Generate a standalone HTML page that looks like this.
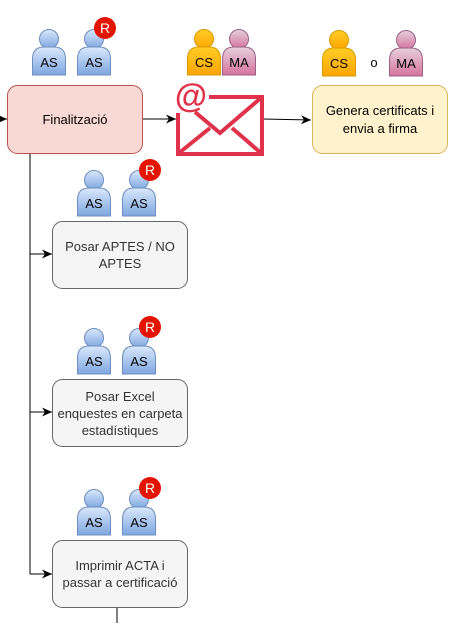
<!DOCTYPE html>
<html><head><meta charset="utf-8"><style>
body{margin:0;background:#fff}
svg text{font-family:"Liberation Sans",sans-serif}
</style></head><body>
<svg width="460" height="623" viewBox="0 0 460 623" xmlns="http://www.w3.org/2000/svg">
<defs>
<linearGradient id="gb" x1="0" y1="0" x2="0" y2="1"><stop offset="0" stop-color="#dae8fc"/><stop offset="1" stop-color="#7ea6e0"/></linearGradient>
<linearGradient id="gy" x1="0" y1="0" x2="0" y2="1"><stop offset="0" stop-color="#ffcd28"/><stop offset="1" stop-color="#ffa500"/></linearGradient>
<linearGradient id="gm" x1="0" y1="0" x2="0" y2="1"><stop offset="0" stop-color="#e6d0de"/><stop offset="1" stop-color="#d5739d"/></linearGradient>
<marker id="ar" markerWidth="12" markerHeight="12" refX="10" refY="6" orient="auto" markerUnits="userSpaceOnUse"><path d="M0,1.5 L10,6 L0,10.5 L3,6 Z" fill="#000"/></marker>
<g id="pb"><circle cx="17" cy="10" r="9.5" fill="url(#gb)" stroke="#6c8ebf"/><path d="M0.5,46 L0.5,30 Q0.5,18 12,18 L22,18 Q33.5,18 33.5,30 L33.5,46 Z" fill="url(#gb)" stroke="#6c8ebf"/><text x="17" y="38" font-size="13" text-anchor="middle" fill="#000">AS</text></g>
<g id="py"><circle cx="17" cy="10" r="9.5" fill="url(#gy)" stroke="#d79b00"/><path d="M0.5,46 L0.5,30 Q0.5,18 12,18 L22,18 Q33.5,18 33.5,30 L33.5,46 Z" fill="url(#gy)" stroke="#d79b00"/><text x="17" y="38" font-size="13" text-anchor="middle" fill="#000">CS</text></g>
<g id="pm"><circle cx="17" cy="10" r="9.5" fill="url(#gm)" stroke="#996185"/><path d="M0.5,46 L0.5,30 Q0.5,18 12,18 L22,18 Q33.5,18 33.5,30 L33.5,46 Z" fill="url(#gm)" stroke="#996185"/><text x="17" y="38" font-size="13" text-anchor="middle" fill="#000">MA</text></g>
<g id="rb"><circle cx="0" cy="0" r="11" fill="#e51400"/><text x="0" y="5" font-size="14" text-anchor="middle" fill="#fff">R</text></g>
</defs>

<line x1="0" y1="119" x2="7" y2="119" stroke="#000" marker-end="url(#ar)"/>
<line x1="142" y1="119" x2="176" y2="119" stroke="#000" marker-end="url(#ar)"/>
<line x1="263" y1="119" x2="311" y2="120" stroke="#000" marker-end="url(#ar)"/>
<path d="M30,153 L30,574" stroke="#000" fill="none"/>
<line x1="30" y1="254" x2="52" y2="254" stroke="#000" marker-end="url(#ar)"/>
<line x1="30" y1="412" x2="52" y2="412" stroke="#000" marker-end="url(#ar)"/>
<line x1="30" y1="574" x2="52" y2="574" stroke="#000" marker-end="url(#ar)"/>
<line x1="117" y1="608" x2="117" y2="623" stroke="#000"/>

<use href="#pb" x="32" y="29"/>
<use href="#pb" x="77" y="29"/>
<use href="#rb" x="105" y="28"/>
<use href="#py" x="187" y="29"/>
<use href="#pm" x="222" y="29"/>
<use href="#py" x="322" y="30"/>
<text x="374" y="67" font-size="13" text-anchor="middle">o</text>
<use href="#pm" x="389" y="30"/>

<rect x="7.5" y="85.5" width="135" height="68" rx="10" fill="#fad9d5" stroke="#b85450"/>
<text x="75" y="124" font-size="13" text-anchor="middle">Finalització</text>

<g stroke="#e0334b" stroke-width="4" fill="none">
<path d="M209,97 L262,97 L262,154 L178,154 L178,113"/>
<path d="M179,153 L210,128 M261,153 L232,128"/>
<path d="M195,112 L220,133 L262,97"/>
</g>
<text x="191" y="107" font-size="33" font-weight="bold" text-anchor="middle" fill="#e0334b">@</text>

<rect x="312.5" y="85.5" width="135" height="68" rx="10" fill="#fff2cc" stroke="#d6b656"/>
<text x="380" y="115" font-size="13" text-anchor="middle">Genera certificats i</text>
<text x="380" y="133" font-size="13" text-anchor="middle">envia a firma</text>

<use href="#pb" x="77" y="170"/>
<use href="#pb" x="122" y="170"/>
<use href="#rb" x="150" y="170"/>
<rect x="52.5" y="221.5" width="135" height="67" rx="10" fill="#f5f5f5" stroke="#666"/>
<text x="120" y="251" font-size="13" text-anchor="middle" fill="#333">Posar APTES / NO</text>
<text x="120" y="268" font-size="13" text-anchor="middle" fill="#333">APTES</text>

<use href="#pb" x="77" y="328"/>
<use href="#pb" x="122" y="328"/>
<use href="#rb" x="150" y="327"/>
<rect x="52.5" y="379.5" width="135" height="67" rx="10" fill="#f5f5f5" stroke="#666"/>
<text x="120" y="401" font-size="13" text-anchor="middle" fill="#333">Posar Excel</text>
<text x="120" y="418" font-size="13" text-anchor="middle" fill="#333">enquestes en carpeta</text>
<text x="120" y="435" font-size="13" text-anchor="middle" fill="#333">estadístiques</text>

<use href="#pb" x="77" y="489"/>
<use href="#pb" x="122" y="489"/>
<use href="#rb" x="150" y="488"/>
<rect x="52.5" y="540.5" width="135" height="67" rx="10" fill="#f5f5f5" stroke="#666"/>
<text x="120" y="570" font-size="13" text-anchor="middle" fill="#333">Imprimir ACTA i</text>
<text x="120" y="587" font-size="13" text-anchor="middle" fill="#333">passar a certificació</text>
</svg>
</body></html>
